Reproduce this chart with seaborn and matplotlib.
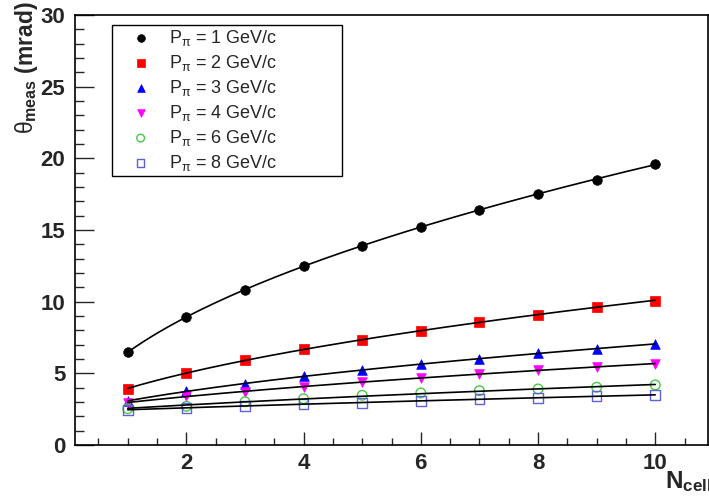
import numpy as np
import pandas as pd
import matplotlib
matplotlib.use('Agg')
import matplotlib.pyplot as plt
import seaborn as sns
from matplotlib.ticker import MultipleLocator

# measured angle vs number of cells, one list per pion momentum
n_cell = [1, 2, 3, 4, 5, 6, 7, 8, 9, 10]
momenta = [1, 2, 3, 4, 6, 8]
theta_1gev = [6.49, 8.93, 10.84, 12.47, 13.89, 15.23, 16.42, 17.49, 18.52, 19.61]
theta_2gev = [3.89, 5.00, 5.91, 6.70, 7.35, 7.98, 8.58, 9.09, 9.63, 10.07]
theta_3gev = [3.09, 3.74, 4.28, 4.79, 5.23, 5.64, 6.02, 6.42, 6.71, 7.05]
theta_4gev = [2.90, 3.45, 3.72, 4.07, 4.40, 4.68, 4.97, 5.21, 5.44, 5.67]
theta_6gev = [2.53, 2.70, 3.02, 3.23, 3.47, 3.63, 3.79, 3.91, 4.03, 4.19]
theta_8gev = [2.45, 2.60, 2.72, 2.86, 2.95, 3.09, 3.20, 3.30, 3.40, 3.49]
all_theta = [theta_1gev, theta_2gev, theta_3gev, theta_4gev, theta_6gev, theta_8gev]

markers = ['o', 's', '^', 'v', 'o', 's']
colors = ['black', '#ff0000', '#0000ff', '#ff00ff', '#44cc44', '#6060d8']
filled = [True, True, True, True, False, False]

sns.set_style('ticks')
plt.rcParams['font.family'] = ['Liberation Sans', 'DejaVu Sans']
plt.rcParams['mathtext.fontset'] = 'custom'
plt.rcParams['mathtext.rm'] = 'Liberation Sans'
plt.rcParams['mathtext.it'] = 'Liberation Sans'
plt.rcParams['mathtext.bf'] = 'Liberation Sans:bold'

fig = plt.figure(figsize=(7.09, 5.01), dpi=100)
ax = fig.add_axes([75/709, 56/501, 633/709, 430/501])

x = np.array(n_cell, dtype=float)
xs = np.linspace(1, 10, 200)
for p, th, m, c, f in zip(momenta, all_theta, markers, colors, filled):
    th = np.array(th)
    lab = r'P$_{\pi}$ = %d GeV/c' % p
    if f:
        sns.scatterplot(x=x, y=th, marker=m, s=48, color=c, edgecolor=c,
                        linewidth=0.5, ax=ax, label=lab, zorder=3)
    else:
        sns.scatterplot(x=x, y=th, marker=m, s=48, facecolors='none',
                        edgecolor=c, linewidth=1.0, ax=ax, label=lab, zorder=3)
    # fit theta^2 = a + b*N
    b, a = np.polyfit(x, th**2, 1)
    sns.lineplot(x=xs, y=np.sqrt(a + b*xs), color='black', lw=1.2,
                 ax=ax, zorder=4, legend=False)

ax.set_xlim(0.1, 10.9)
ax.set_ylim(0, 30)
ax.xaxis.set_major_locator(MultipleLocator(2))
ax.xaxis.set_minor_locator(MultipleLocator(0.5))
ax.yaxis.set_major_locator(MultipleLocator(5))
ax.yaxis.set_minor_locator(MultipleLocator(1))
ax.tick_params(axis='x', which='major', direction='in', length=9.4, width=1, pad=6)
ax.tick_params(axis='x', which='minor', direction='in', length=4.7, width=1)
ax.tick_params(axis='y', which='major', direction='in', length=13.5, width=1, pad=7)
ax.tick_params(axis='y', which='minor', direction='in', length=6.8, width=1)
for lbl in ax.get_xticklabels() + ax.get_yticklabels():
    lbl.set_fontweight('bold')
    lbl.set_fontsize(16)
for sp in ax.spines.values():
    sp.set_linewidth(1.2)
    sp.set_color('black')
ax.set_xlabel('')
ax.set_ylabel('')

fig.text(26/709, 1 - 1/501, r'$\theta_{\mathbf{meas}}$ $\mathbf{(mrad)}$',
         rotation=90, ha='center', va='top', fontsize=16.5)
fig.text(665/709, 1 - 488/501, r'$\mathbf{N}_{\mathbf{cell}}$',
         ha='left', va='baseline', fontsize=17.5)

leg = ax.legend(loc='upper left', bbox_to_anchor=(0.058, 0.63, 0.364, 0.347),
                mode='expand', borderaxespad=0, fontsize=13, frameon=True,
                fancybox=False, edgecolor='black', framealpha=1,
                handlelength=2.9, handletextpad=0.1, labelspacing=0.28,
                borderpad=0.15, markerscale=0.8)
leg.get_frame().set_linewidth(1.0)

fig.savefig('out.png', dpi=100)
